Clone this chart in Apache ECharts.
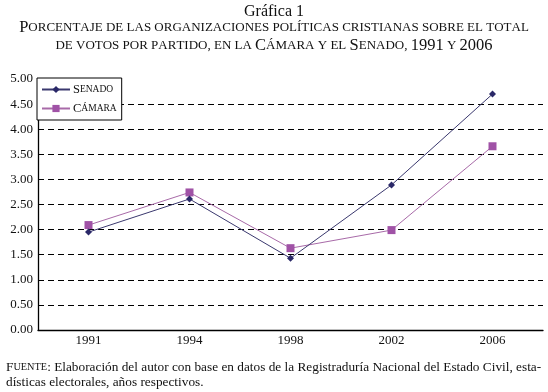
<!DOCTYPE html>
<html>
<head>
<meta charset="UTF-8">
<title>Gráfica 1</title>
<script src="https://cdn.jsdelivr.net/npm/echarts@6/dist/echarts.min.js"></script>
<style>
  html, body { margin: 0; padding: 0; background: #fff; }
</style>
</head>
<body>
<div id="main" style="width: 548px;height:392px;"></div>
<script type="text/javascript">
// datos
var years = ['1991', '1994', '1998', '2002', '2006'];
var senado = [1.95, 2.61, 1.43, 2.89, 4.70];
var camara = [2.09, 2.74, 1.63, 1.99, 3.66];
var yTicks = [0, 0.5, 1, 1.5, 2, 2.5, 3, 3.5, 4, 4.5, 5];

var serif = '"Liberation Serif", "DejaVu Serif", serif';

// versalitas: mayúscula grande + resto en mayúscula pequeña
function smallCaps(str, big, small) {
  return str.split(' ').map(function (w) {
    var out = '';
    for (var i = 0; i < w.length; i++) {
      var ch = w[i];
      var up = ch.toUpperCase();
      var isCap = ch === up && ch !== ch.toLowerCase();
      out += isCap ? '{' + big + '|' + ch + '}' : '{' + small + '|' + up + '}';
    }
    return out;
  }).join('{' + small + '| }');
}

var myChart = echarts.init(document.getElementById('main'));

var option = {
  animation: false,
  backgroundColor: '#fff',
  title: [{
    text: 'Gráfica 1',
    left: 'center',
    top: -1,
    textStyle: { fontFamily: serif, fontWeight: 'normal', fontSize: 16, color: '#111' }
  }, {
    text: smallCaps('Porcentaje de las organizaciones políticas cristianas sobre el total', 'a', 'b') + '\n' +
          smallCaps('de votos por partido, en la Cámara y el Senado,', 'a', 'b') + '{b| }{a|1991}{b| Y }{a|2006}',
    left: 'center',
    top: 14,
    textStyle: {
      fontFamily: serif, fontWeight: 'normal', color: '#111', lineHeight: 18,
      rich: {
        a: { fontFamily: serif, fontWeight: 'normal', fontSize: 16.5, color: '#111', lineHeight: 18 },
        b: { fontFamily: serif, fontWeight: 'normal', fontSize: 13, color: '#111', lineHeight: 18 }
      }
    }
  }, {
    text: '{a|F}{b|UENTE}{a|: Elaboración del autor con base en datos de la Registraduría Nacional del Estado Civil, esta-}\n' +
          '{a|dísticas electorales, años respectivos.}',
    left: 1,
    top: 355,
    textStyle: {
      fontFamily: serif, fontWeight: 'normal', color: '#111', lineHeight: 15,
      rich: {
        a: { fontFamily: serif, fontWeight: 'normal', fontSize: 13.3, color: '#111', lineHeight: 15 },
        b: { fontFamily: serif, fontWeight: 'normal', fontSize: 10.3, color: '#111', lineHeight: 15 }
      }
    }
  }],
  legend: {
    left: 37,
    top: 78,
    orient: 'vertical',
    itemGap: 6,
    itemWidth: 28,
    itemHeight: 9,
    padding: [5, 5, 5, 4],
    backgroundColor: '#fff',
    borderColor: '#000',
    borderWidth: 1,
    borderRadius: 0,
    data: ['Senado', 'Cámara'],
    formatter: function (name) {
      return smallCaps(name, 'a', 'b');
    },
    textStyle: {
      fontFamily: serif, color: '#111', padding: [0, 0, 0, -2],
      rich: {
        a: { fontFamily: serif, fontSize: 12.5, color: '#111' },
        b: { fontFamily: serif, fontSize: 9.5, color: '#111' }
      }
    }
  },
  grid: { left: 38, right: 5, top: 79, bottom: 62 },
  xAxis: {
    type: 'category',
    data: years,
    boundaryGap: true,
    axisLine: { lineStyle: { color: '#000', width: 1.3 } },
    axisTick: { inside: true, length: 5, lineStyle: { color: '#000' } },
    axisLabel: { fontFamily: serif, fontSize: 13, color: '#111', margin: 4 },
    splitLine: { show: false }
  },
  yAxis: {
    type: 'value',
    min: yTicks[0],
    max: yTicks[yTicks.length - 1],
    interval: 0.5,
    axisLine: { show: true, lineStyle: { color: '#000', width: 1.3 } },
    axisTick: { show: false },
    axisLabel: {
      fontFamily: serif, fontSize: 13, color: '#111', margin: 5,
      formatter: function (v) { return v.toFixed(2); }
    },
    splitLine: {
      show: true,
      showMaxLine: false,
      lineStyle: { color: '#000', type: [6, 4], width: 1 }
    }
  },
  series: [{
    name: 'Senado',
    type: 'line',
    data: senado,
    symbol: 'diamond',
    symbolSize: 7,
    itemStyle: { color: '#2a2868' },
    lineStyle: { color: '#3a386e', width: 1 },
    z: 3
  }, {
    name: 'Cámara',
    type: 'line',
    data: camara,
    symbol: 'rect',
    symbolSize: 8,
    itemStyle: { color: '#a052a6' },
    lineStyle: { color: '#a86aa8', width: 1 },
    z: 2
  }]
};

myChart.setOption(option);
</script>
</body>
</html>
